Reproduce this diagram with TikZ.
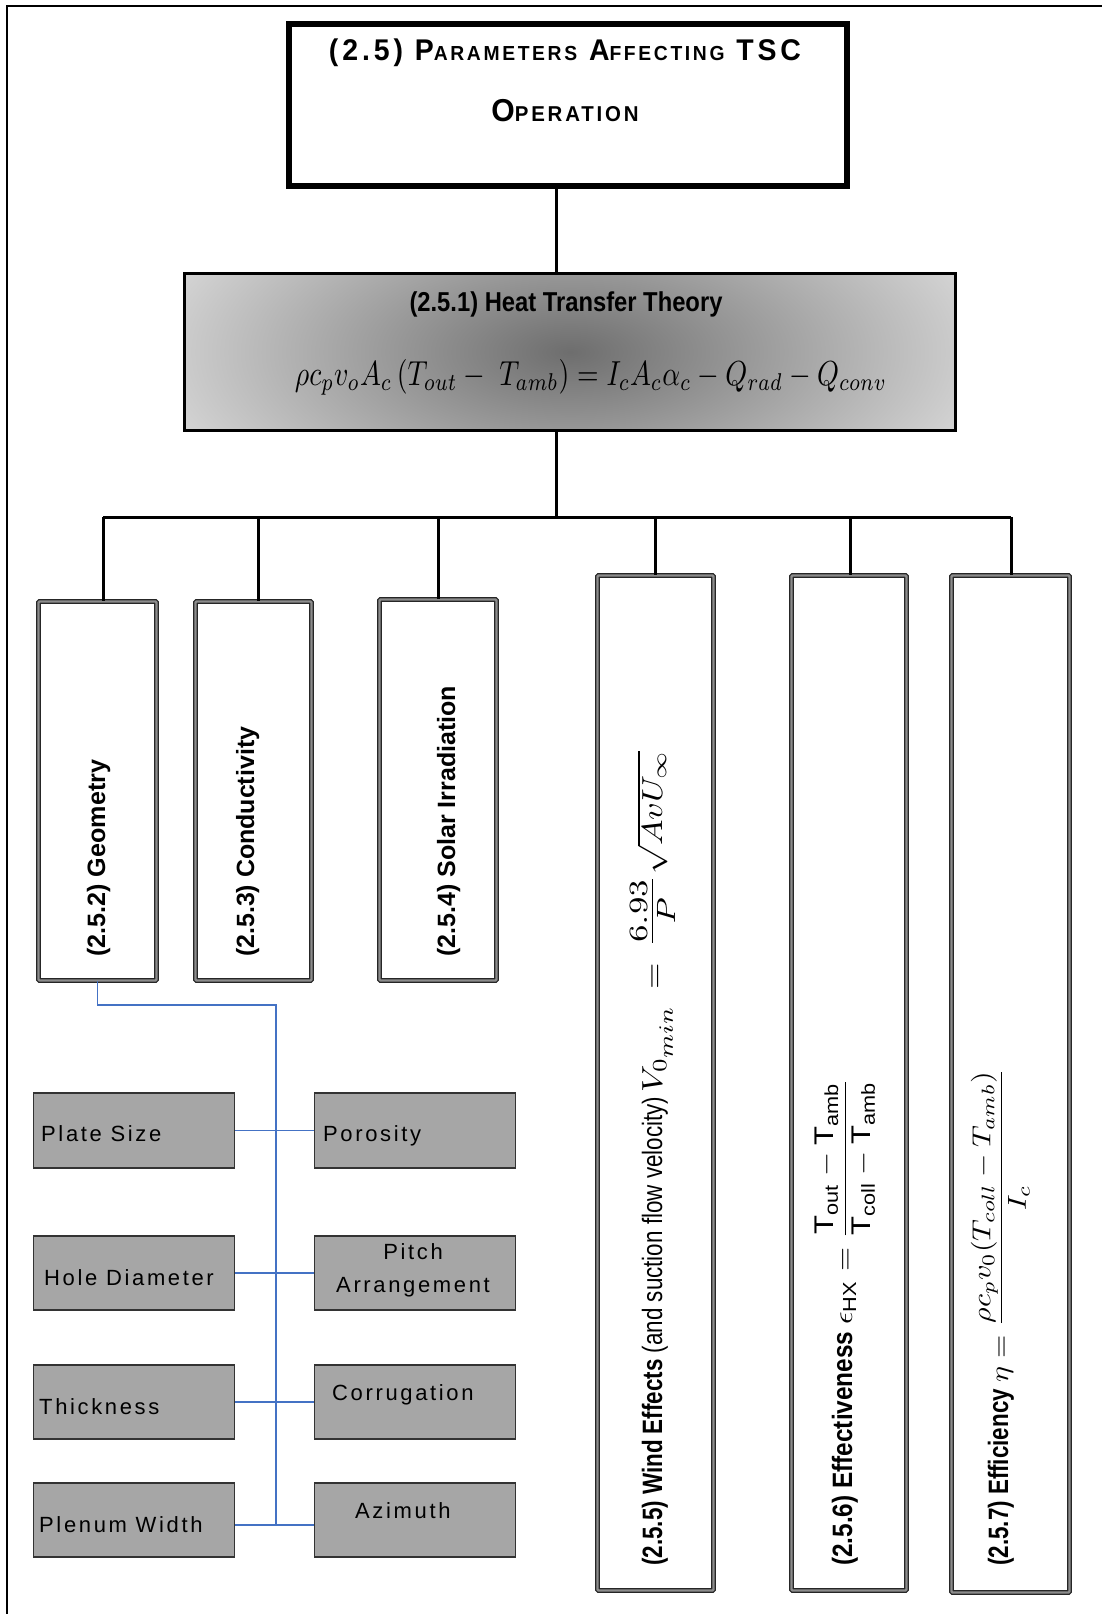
\documentclass[tikz,border=0pt]{standalone}
\usepackage{amsmath}
\usepackage{graphicx}
\usepackage{fontspec}
\setmainfont{Liberation Sans}
\newfontfamily\narrowfont[FakeStretch=0.87]{Liberation Sans}
\newfontfamily\condfont[FakeStretch=0.8]{Liberation Sans}
\newfontfamily\titlefont[FakeStretch=0.95,LetterSpace=13]{Liberation Sans}
\newfontfamily\spacedfont[LetterSpace=12]{Liberation Sans}
\usetikzlibrary{calc}
\definecolor{leafgray}{HTML}{A6A6A6}
\definecolor{linkblue}{HTML}{4472C4}
% fake small caps for the title
\newcommand\smc[1]{{\fontsize{19}{22}\selectfont #1}}
% formula set at 10pt and enlarged (along the line, across the line)
\newcommand\bigmath[3]{\scalebox{#1}[#2]{\fontsize{10}{12}\selectfont $#3$}}

\begin{document}
\begin{tikzpicture}[x=1pt,y=-1pt,
  frameline/.style={line width=2.5pt,black},
  rootbox/.style={draw,line width=6pt,minimum width=558pt,minimum height=162pt,inner sep=0pt},
  theorybox/.style={draw,line width=3pt,minimum width=771pt,minimum height=157pt,inner sep=0pt,
    path picture={\shade[inner color=black!57,outer color=white]
      (path picture bounding box.center) ellipse (600 and 275);}},
  paramcol/.style={draw=black!85,line width=1.3pt,double=black!45,double distance=2.2pt,
    rounded corners=1pt,inner sep=0pt},
  leafbox/.style={draw=black!80,fill=leafgray,line width=1.5pt,minimum width=201pt,
    minimum height=74pt,inner sep=0pt},
  trunk/.style={line width=3pt,black},
  link/.style={line width=1.5pt,linkblue},
  leaftext/.style={inner sep=0pt,anchor=base west,font=\spacedfont\fontsize{22}{26}\selectfont},
  coltext/.style={inner sep=0pt,anchor=base west,rotate=90},
  plaintext/.style={inner sep=0pt,anchor=base}
]
\useasboundingbox (0,0) rectangle (1102,1614);
\fill[white] (0,0) rectangle (1102,1614);

% page frame (top and left edges)
\draw[frameline] (7,1614) -- (7,6) -- (1102,6);

% root
\node[rootbox] (root) at (568,105) {};
\node[plaintext] (rootA) at (565,60) {\resizebox{472pt}{!}{\titlefont\bfseries\fontsize{28}{30}\selectfont
  (2.5) P\smc{ARAMETERS} A\smc{FFECTING} TSC}};
\node[plaintext] (rootB) at (565,121) {\resizebox{147pt}{!}{\titlefont\bfseries\fontsize{28}{30}\selectfont
  O\smc{PERATION}}};

% heat transfer theory
\node[theorybox] (heat) at (570,352) {};
\node[plaintext] (heatA) at (566,311) {\resizebox{313pt}{!}{\narrowfont\bfseries\fontsize{28}{30}\selectfont
  (2.5.1) Heat Transfer Theory}};
\node[plaintext] (heatB) at (591,385) {\scalebox{1}[1.25]{\resizebox{592pt}{!}{%
  $\rho c_p v_o A_c\,(T_{out} -\; T_{amb}) = I_c A_c \alpha_c - Q_{rad} - Q_{conv}$}}};

% parameter columns
\node[paramcol,minimum width=118pt,minimum height=379pt]  (geo)  at (97.5,791) {};
\node[paramcol,minimum width=116pt,minimum height=379pt]  (cond) at (253.5,791) {};
\node[paramcol,minimum width=117pt,minimum height=381pt]  (sol)  at (438,790) {};
\node[paramcol,minimum width=116pt,minimum height=1015pt] (wind) at (655.5,1083) {};
\node[paramcol,minimum width=115pt,minimum height=1015pt] (eff)  at (849,1083) {};
\node[paramcol,minimum width=118pt,minimum height=1017pt] (effy) at (1010.5,1084) {};

\node[coltext] (geoT) at (105,957) {\resizebox{197pt}{!}{\bfseries (2.5.2) Geometry}};
\node[coltext] (condT) at (254,957) {\resizebox{230pt}{!}{\bfseries (2.5.3) Conductivity}};
\node[coltext] (solT) at (455,957) {\resizebox{271pt}{!}{\bfseries (2.5.4) Solar Irradiation}};
\node[coltext,font=\condfont\fontsize{28}{30}\selectfont] (windT) at (662,1566)
  {\textbf{(2.5.5) Wind Effects} (and suction flow velocity)\,%
   \bigmath{3.4}{2.9}{V_{\scriptstyle 0_{\scriptstyle min}}\,=\,\scalebox{1.3}{$\frac{6.93}{P}$}\sqrt{AvU_\infty}}};
\node[coltext,font=\narrowfont\fontsize{28}{30}\selectfont] (effT) at (852,1566)
  {\textbf{(2.5.6) Effectiveness}
   \bigmath{3.1}{2.7}{\epsilon_{\mathrm{HX}} = \dfrac{\mathrm{T_{out}-T_{amb}}}{\mathrm{T_{coll}-T_{amb}}}}};
\node[coltext,font=\condfont\fontsize{28}{30}\selectfont] (effyT) at (1008,1566)
  {\textbf{(2.5.7) Efficiency}
   \bigmath{3.0}{2.6}{\eta = \dfrac{\rho c_p v_0 (T_{coll}-T_{amb})}{I_c}}};

% tree connectors
\coordinate (spine) at (556,517);
\coordinate (b1) at (103,517);
\coordinate (b2) at (258,517);
\coordinate (b3) at (438,517);
\coordinate (b4) at (655,517);
\coordinate (b5) at (850,517);
\coordinate (b6) at (1011,517);
\draw[trunk] (root.south -| spine) -- (heat.north -| spine);
\draw[trunk] (heat.south -| spine) -- (spine);
\draw[trunk] (b1) -- (b6);
\draw[trunk] (b1) -- (geo.north -| b1);
\draw[trunk] (b2) -- (cond.north -| b2);
\draw[trunk] (b3) -- (sol.north -| b3);
\draw[trunk] (b4) -- (wind.north -| b4);
\draw[trunk] (b5) -- (eff.north -| b5);
\draw[trunk] (b6) -- (effy.north -| b6);

% geometry sub-parameters
\node[leafbox,minimum height=75pt] (plate) at (134,1130.5) {};
\node[leafbox,minimum height=75pt] (poro)  at (415,1130.5) {};
\node[leafbox] (hole) at (134,1273) {};
\node[leafbox] (pitch) at (415,1273) {};
\node[leafbox] (thick) at (134,1402) {};
\node[leafbox] (corr) at (415,1402) {};
\node[leafbox] (plen) at (134,1520) {};
\node[leafbox] (azi) at (415,1520) {};

\node[leaftext] (plateT) at (41,1141) {Plate Size};
\node[leaftext] (poroT) at (323,1141) {Porosity};
\node[leaftext] (holeT) at (44,1285) {Hole Diameter};
\node[leaftext,anchor=base] (pitchT) at (413,1259) {Pitch};
\node[leaftext,anchor=base] (arrT) at (413,1292) {Arrangement};
\node[leaftext] (thickT) at (39,1414) {Thickness};
\node[leaftext] (corrT) at (332,1400) {Corrugation};
\node[leaftext] (plenT) at (39,1532) {Plenum Width};
\node[leaftext] (aziT) at (355,1518) {Azimuth};

\coordinate (trunkTop) at (276,1005);
\coordinate (trunkBot) at (276,1525);
\draw[link] (geo.south) |- (trunkTop) -- (trunkBot);
\draw[link] (plate.east) -- (poro.west);
\draw[link] (hole.east) -- (pitch.west);
\draw[link] (thick.east) -- (corr.west);
\draw[link] (plen.east |- trunkBot) -- (azi.west |- trunkBot);
\end{tikzpicture}
\end{document}
